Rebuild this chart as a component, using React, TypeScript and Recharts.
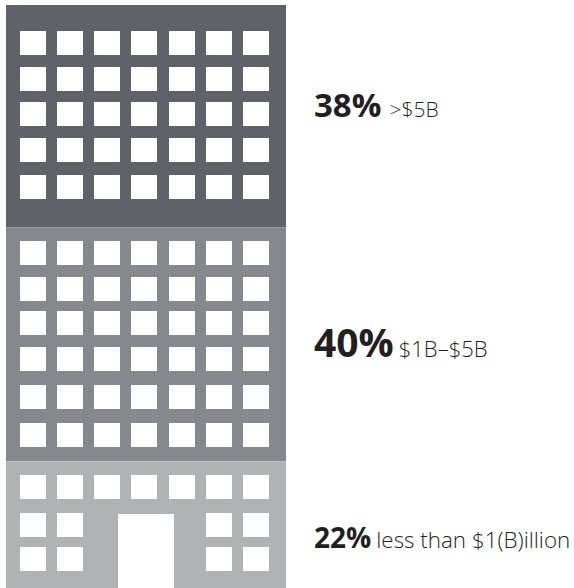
import { BarChart, Bar, XAxis, YAxis, LabelList } from 'recharts';

// Share of companies by revenue band, stacked top to bottom as floors of a building
const bandKeys = ['large', 'mid', 'small'];
const bandShares = [38, 40, 22];
const bandRanges = ['>$5B', '$1B–$5B', 'less than $1(B)illion'];

const chartData = [
  Object.fromEntries([['name', 'Companies'], ...bandKeys.map((key, i) => [key, bandShares[i]])]),
];

const FONT = '"Open Sans", sans-serif';
const WIDTH = 574;
const HEIGHT = 588;
// the building runs a little past the bottom edge of the frame
const BUILDING_OVERRUN = 2;
const WINDOW_W = 26;
const WINDOW_H = 24;

const bandColors = ['#5f6269', '#85888d', '#afb3b4'];
const shareSizes = [33, 39, 28];
const rangeSizes = [21, 22, 22.4];
const rangeGaps = [8, 5, 5];
// distance from the middle of each floor to the text baseline
const baselineOffsets = [0.5, 12.7, 22.4];

const columnOffsets = [14, 51, 88, 125, 163, 200, 237];
const allColumns = [0, 1, 2, 3, 4, 5, 6];
const besideDoor = [0, 1, 5, 6];

const floorRows = [
  [26, 62, 97, 133, 170].map((top) => ({ top, columns: allColumns })),
  [14, 50, 84, 120, 158, 196].map((top) => ({ top, columns: allColumns })),
  [
    { top: 14, columns: allColumns },
    { top: 52, columns: besideDoor },
    { top: 86, columns: besideDoor },
  ],
];

// Floor block with its white windows, placed from the rectangle the bar scale gives.
// The y axis is reversed, so the bar height arrives negative.
function Floor({ x, y, width, height, fill, index }: any) {
  const blockTop = Math.min(y, y + height);
  const blockHeight = Math.abs(height);
  const left = Math.round(x);
  const top = Math.round(blockTop);
  return (
    <g>
      <rect x={x} y={blockTop} width={width} height={blockHeight} fill={fill} />
      {floorRows[index].map((row) =>
        row.columns.map((col) => (
          <rect
            key={`${row.top}-${col}`}
            x={left + columnOffsets[col]}
            y={top + row.top}
            width={WINDOW_W}
            height={WINDOW_H}
            fill="#fff"
          />
        )),
      )}
      {index === 2 && (
        <rect x={left + 112} y={top + 53} width={56} height={blockTop + blockHeight - top - 53} fill="#fff" />
      )}
    </g>
  );
}

function BandLabel({ x, y, width, height, index }: any) {
  return (
    <text
      x={x + width + 28}
      y={y + height / 2 + baselineOffsets[index]}
      fontFamily={FONT}
      fill="#231f20"
    >
      <tspan fontSize={shareSizes[index]} fontWeight={700}>
        {bandShares[index]}%
      </tspan>
      <tspan dx={rangeGaps[index]} fontSize={rangeSizes[index]} fontWeight={300}>
        {bandRanges[index]}
      </tspan>
    </text>
  );
}

export default function App() {
  return (
    <div style={{ position: 'absolute', left: 0, top: 0, width: WIDTH, height: HEIGHT, overflow: 'hidden' }}>
      <BarChart
        width={WIDTH}
        height={HEIGHT + BUILDING_OVERRUN}
        data={chartData}
        margin={{ top: 5, right: 288, bottom: 0, left: 6 }}
        barCategoryGap={0}
      >
        <XAxis dataKey="name" hide />
        <YAxis type="number" domain={[0, 100]} reversed hide />
        {bandKeys.map((key, i) => (
          <Bar
            key={key}
            dataKey={key}
            stackId="building"
            fill={bandColors[i]}
            isAnimationActive={false}
            shape={(props: any) => <Floor {...props} index={i} />}
          >
            <LabelList dataKey={key} content={(props: any) => <BandLabel {...props} index={i} />} />
          </Bar>
        ))}
      </BarChart>
    </div>
  );
}
